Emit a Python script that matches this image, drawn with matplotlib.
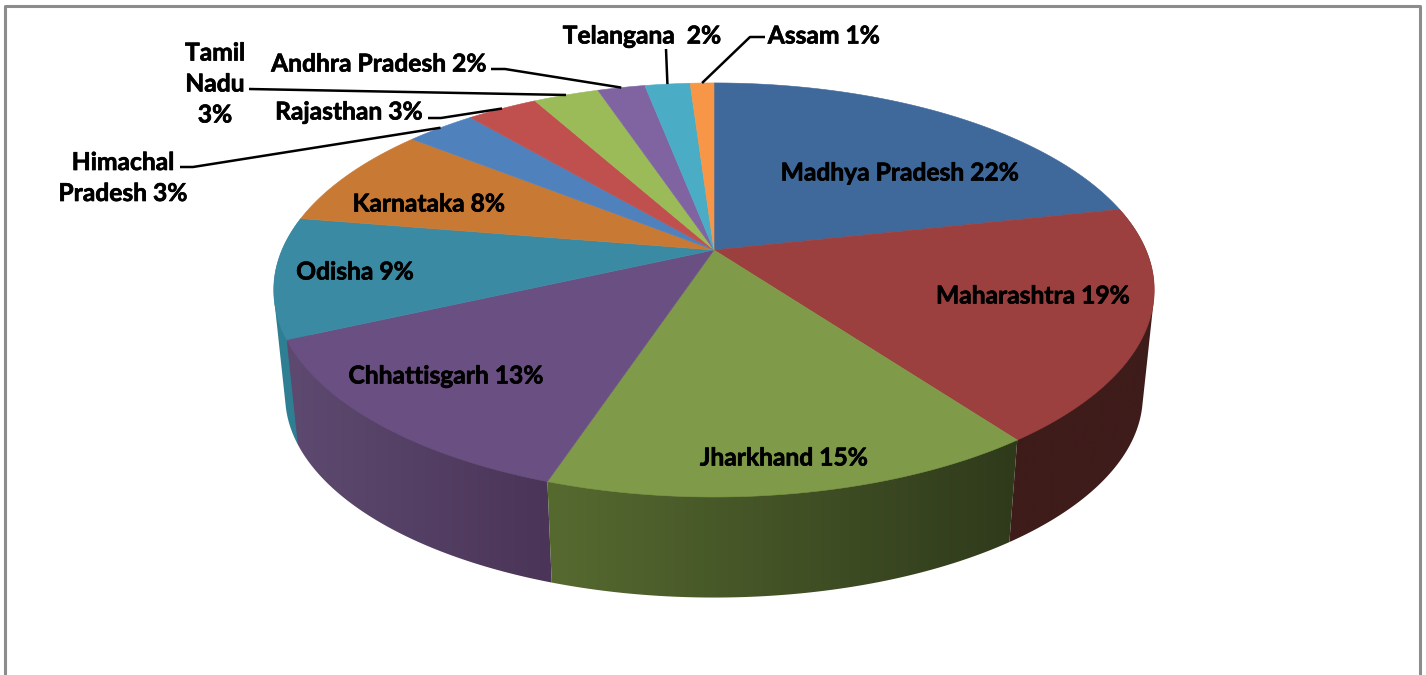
import numpy as np
import matplotlib
matplotlib.use("Agg")
import matplotlib.pyplot as plt
import matplotlib.patheffects as pe
from matplotlib.patches import Polygon

states = ["Madhya Pradesh", "Maharashtra", "Jharkhand", "Chhattisgarh", "Odisha", "Karnataka",
          "Himachal Pradesh", "Rajasthan", "Tamil Nadu", "Andhra Pradesh", "Telangana", "Assam"]
shares = [21.6, 18.3, 15.2, 13.1, 9.4, 8.1, 3.1, 3.15, 2.9, 2.1, 2.0, 1.05]
top_colors = ["#3f689b", "#9b403e", "#7f9a48", "#6a5082", "#3b8aa3", "#c87a35",
              "#4f81bd", "#c0504d", "#9bbb59", "#8064a2", "#4bacc6", "#f79646"]
# left and right colour of the side wall, only the front wedges show one
side_left = {1: "#3e1c1a", 2: "#566a30", 3: "#5e4a70", 4: "#2f7f94"}
side_right = {1: "#3e1c1a", 2: "#2f3a1b", 3: "#4a3558", 4: "#2f7f94"}

# label text and position
labels = [
    ("Madhya Pradesh 22%", 900, 173),
    ("Maharashtra 19%", 1033, 296),
    ("Jharkhand 15%", 784, 458),
    ("Chhattisgarh 13%", 446, 376),
    ("Odisha 9%", 355, 272),
    ("Karnataka 8%", 429, 204),
    ("Himachal\nPradesh 3%", 123, 178),
    ("Rajasthan 3%", 349, 112),
    ("Tamil\nNadu\n3%", 215, 84),
    ("Andhra Pradesh 2%", 379, 64),
    ("Telangana  2%", 642, 36),
    ("Assam 1%", 824, 36),
]
leaders = {
    6: [(180, 167), (193, 167)],
    7: [(428, 118), (441, 118)],
    8: [(249, 89)],
    9: [(491, 69), (505, 69)],
    10: [(666, 49)],
    11: [(765, 37), (750, 37)],
}

CX, CY = 714, 250
A, B, K = 432, 199.3, 0.193
LOW_S, LOW_Y = 0.974, 357


def project(theta, scale=1.0, cy=CY):
    # circle seen in perspective, theta clockwise from the top
    x, y = np.sin(theta), np.cos(theta)
    w = 1 + K * y
    return CX + scale * A * x / w, cy - scale * B * y / w


def hull(points):
    # convex outline, so the wall also reaches the tangent at the pie's sides
    points = sorted(map(tuple, points))

    def half(seq):
        out = []
        for p in seq:
            while len(out) > 1 and ((out[-1][0] - out[-2][0]) * (p[1] - out[-2][1])
                                    - (out[-1][1] - out[-2][1]) * (p[0] - out[-2][0])) <= 0:
                out.pop()
            out.append(p)
        return out[:-1]

    return np.array(half(points) + half(points[::-1]))


fig = plt.figure(figsize=(14.26, 6.75), dpi=100)
ax = fig.add_axes([0, 0, 1, 1])
ax.set_xlim(0, 1426)
ax.set_ylim(675, 0)
ax.axis("off")

# chart border, no bottom edge in the crop
ax.plot([5, 5, 1420, 1420], [675, 6, 6, 675], color="#8c8c8c", lw=2.2)

edges = np.cumsum([0] + shares) / sum(shares) * 2 * np.pi

# side walls, back ones first
order = sorted(side_left, key=lambda i: abs(edges[i] + edges[i + 1] - 2 * np.pi), reverse=True)
for n, i in enumerate(order):
    t = np.linspace(edges[i], edges[i + 1], 120)
    ux, uy = project(t)
    lx, ly = project(t, LOW_S, LOW_Y)
    pts = hull(np.r_[np.c_[ux, uy], np.c_[lx, ly]])
    patch = Polygon(pts, closed=True, fc="none", ec="none")
    ax.add_patch(patch)
    c0 = np.array(matplotlib.colors.to_rgb(side_left[i]))
    c1 = np.array(matplotlib.colors.to_rgb(side_right[i]))
    x0, x1 = pts[:, 0].min(), pts[:, 0].max()
    ramp = np.linspace(0, 1, 200)[:, None]
    grad = (c0 * (1 - ramp) + c1 * ramp)[None, :, :]
    im = ax.imshow(grad, extent=[x0, x1, pts[:, 1].max(), pts[:, 1].min()],
                   aspect="auto", zorder=2 + n * 0.01, interpolation="bilinear")
    im.set_clip_path(patch)
ax.set_xlim(0, 1426)
ax.set_ylim(675, 0)

# top face
for i, c in enumerate(top_colors):
    t = np.linspace(edges[i], edges[i + 1], 120)
    ux, uy = project(t)
    pts = np.r_[[[CX, CY]], np.c_[ux, uy]]
    ax.add_patch(Polygon(pts, closed=True, fc=c, ec=c, lw=0.4, zorder=3))

# leader lines end on the rim, at the middle of the wedge
for i, knee in leaders.items():
    ex, ey = project((edges[i] + edges[i + 1]) / 2)
    xs = [p[0] for p in knee] + [ex]
    ys = [p[1] for p in knee] + [ey]
    ax.plot(xs, ys, color="black", lw=1.8, zorder=4, solid_capstyle="butt")

for text, x, y in labels:
    ax.text(x, y, text, ha="center", va="center", family="Lato", weight="bold",
            fontsize=17.7, color="black", zorder=5, linespacing=1.42,
            path_effects=[pe.withStroke(linewidth=0.5, foreground="black")])

fig.savefig("out.png", dpi=100)
